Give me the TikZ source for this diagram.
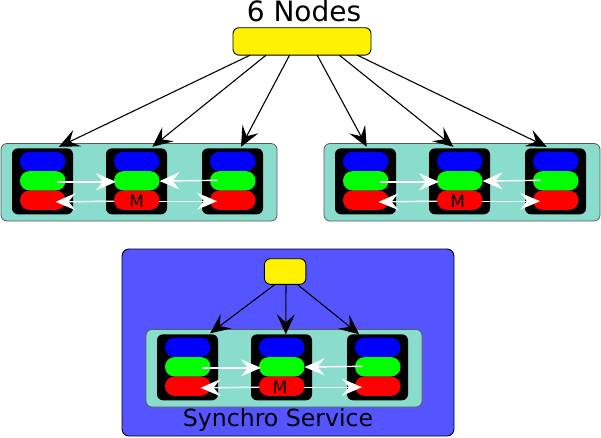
\documentclass[tikz,border=0pt]{standalone}
\usepackage{fontspec}
\setmainfont{DejaVu Sans}
\usetikzlibrary{arrows.meta,calc}
\definecolor{panelc}{HTML}{8ADDCD}
\definecolor{outerc}{HTML}{5555FF}
\tikzset{
  x=1pt,y=-1pt,
  boxn/.style={inner sep=0pt,outer sep=0pt,anchor=north west},
  panelbox/.style={boxn,draw=black!65,line width=0.8pt,fill=panelc,rounded corners=6pt},
  outerbox/.style={boxn,draw=black,line width=0.9pt,fill=outerc,rounded corners=7pt},
  yellowbox/.style={boxn,draw=black,line width=0.9pt,fill=yellow,rounded corners=6pt},
  blackbox/.style={boxn,fill=black,rounded corners=6pt,minimum width=61pt,minimum height=66pt},
  pill/.style={boxn,rounded corners=9.5pt,minimum width=45.5pt,minimum height=19.4pt},
  feed/.style={draw=black,line width=1.1pt,-{Stealth[inset=8pt,length=20pt,width=18pt]}},
  sync/.style={draw=white,line width=1.4pt,-{Stealth[inset=7pt,length=20pt,width=17pt,fill=white]}},
  mlabel/.style={font=\fontsize{17}{17}\selectfont,inner sep=0pt,anchor=base},
}
\newcommand{\cluster}[4]{%
 \begin{scope}[shift={(#2,#3)}]
  \node[panelbox,minimum width=276pt,minimum height=77.5pt] (#1p) at (1,143.5) {};
  \foreach \n/\bx in {1/12,2/106,3/202}{
    \node[blackbox] (#1b\n) at (\bx,148.3) {};
    \node[pill,fill=blue] (#1u\n) at (\bx+8,151.7) {};
    \node[pill,fill=green] (#1g\n) at (\bx+8,171.1) {};
    \node[pill,fill=red] (#1r\n) at (\bx+8,190.5) {};
  }
  \node[mlabel] (#1m) at (#4,207.5) {M};
  \draw[sync] ($(#1g1.center)+(14.5,1)$) -- ($(#1g2.west)+(2,1)$);
  \draw[sync] ($(#1g3.center)+(-15.5,-0.5)$) -- ($(#1g2.east)+(0,0.3)$);
  \draw[sync] ($(#1r2.west)+(0,1)$) -- ($(#1r1.east)+(-10,1.7)$);
  \draw[sync] ($(#1r2.east)+(-1,1)$) -- ($(#1r3.west)+(7,1)$);
 \end{scope}}
\begin{document}
\begin{tikzpicture}
\useasboundingbox (0,0) rectangle (601,437);
\node[inner sep=0pt,anchor=base,font=\fontsize{28}{28}\selectfont] (title) at (304,21.7) {6 Nodes};
\node[yellowbox,minimum width=138pt,minimum height=27.4pt] (top) at (233,27.7) {};
\cluster{a}{0}{0}{136.7}
\cluster{c}{323}{0}{134.7}
\draw[feed] ($(top.south west)!0.125!(top.south east)$) -- ($(ab1.north west)!0.77!(ab1.north east)+(0,-1.5)$);
\draw[feed] ($(top.south west)!0.24!(top.south east)$) -- ($(ab2.north west)!0.76!(ab2.north east)+(0,-1.5)$);
\draw[feed] ($(top.south west)!0.41!(top.south east)$) -- ($(ab3.north west)!0.64!(ab3.north east)+(0,-1.5)$);
\draw[feed] ($(top.south west)!0.61!(top.south east)$) -- ($(cb1.north west)!0.52!(cb1.north east)+(0,-1.5)$);
\draw[feed] ($(top.south west)!0.77!(top.south east)$) -- ($(cb2.north west)!0.40!(cb2.north east)+(0,-1.5)$);
\draw[feed] ($(top.south west)!0.9!(top.south east)$) -- ($(cb3.north west)!0.355!(cb3.north east)+(0,-1.5)$);
\node[outerbox,minimum width=332pt,minimum height=187pt] (outer) at (122,249) {};
\cluster{s}{145}{186}{135}
\node[yellowbox,minimum width=41.5pt,minimum height=25.6pt] (small) at (264.4,258.7) {};
\draw[feed] ($(small.south west)!0.26!(small.south east)$) -- ($(sb1.north west)!0.87!(sb1.north east)+(0,-1)$);
\draw[feed] ($(small.south west)!0.52!(small.south east)$) -- ($(sb2.north west)!0.57!(sb2.north east)$);
\draw[feed] ($(small.south west)!0.79!(small.south east)$) -- ($(sb3.north west)!0.2!(sb3.north east)$);
\node[inner sep=0pt,anchor=base,font=\fontsize{23.6}{23.6}\selectfont] (syn) at (278,426.7) {Synchro Service};
\end{tikzpicture}
\end{document}
